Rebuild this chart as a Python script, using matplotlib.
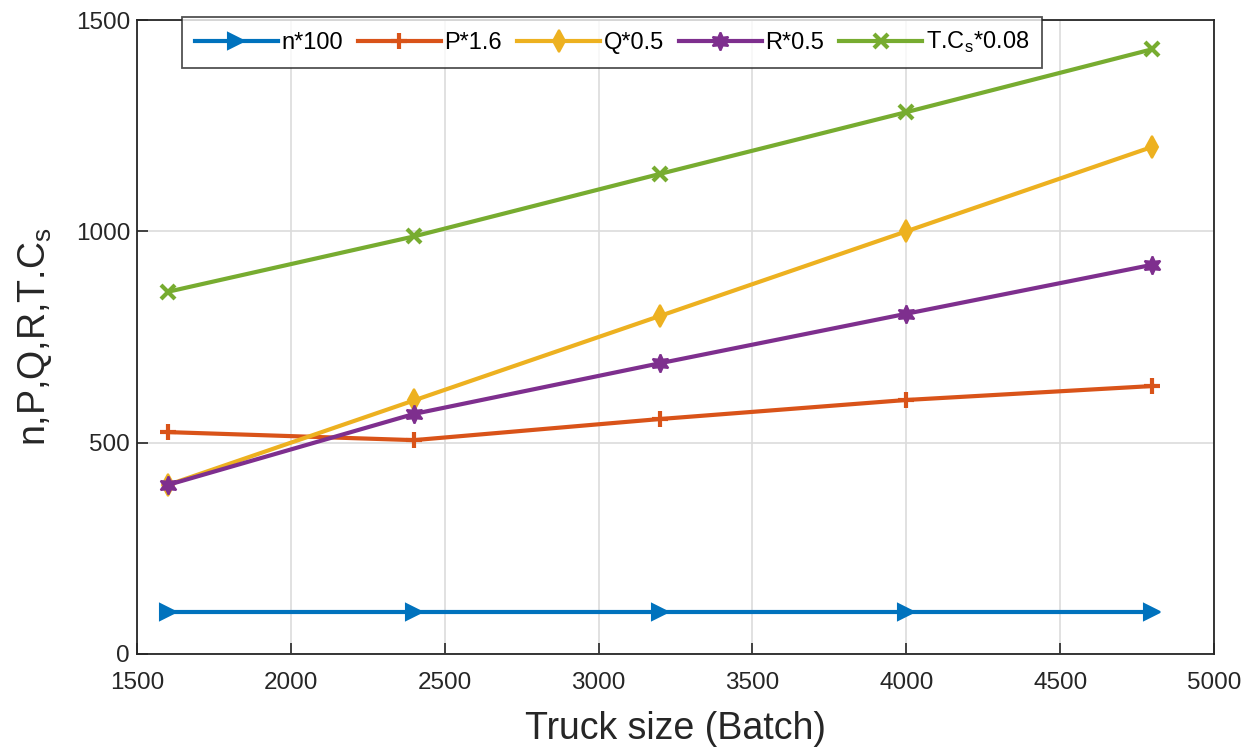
import numpy as np
import matplotlib
matplotlib.use('Agg')
import matplotlib.pyplot as plt

plt.rcParams['font.family'] = ['Liberation Sans', 'DejaVu Sans']
plt.rcParams['mathtext.fontset'] = 'custom'
plt.rcParams['mathtext.rm'] = 'Liberation Sans'

# truck size (batch) and scaled outputs
truck = [1600, 2400, 3200, 4000, 4800]
n_vals = [100, 100, 100, 100, 100]
p_vals = [525, 506, 556, 601, 634]
q_vals = [400, 600, 800, 1000, 1200]
r_vals = [400, 568, 688, 805, 921]
tc_vals = [857, 988, 1136, 1282, 1431]

labels = ['n*100', 'P*1.6', 'Q*0.5', 'R*0.5', r'T.C$_\mathregular{s}$*0.08']
colors = ['#0072BD', '#D95319', '#EDB120', '#7E2F8E', '#77AC30']
markers = ['>', '+', 'd', (6, 1, 0), 'x']
msizes = [11, 12, 11, 13, 10]
series = [n_vals, p_vals, q_vals, r_vals, tc_vals]

fig = plt.figure(figsize=(12.46, 7.47), dpi=100)
ax = fig.add_axes([0.110, 0.1245, 0.8643, 0.8487])

for y, lab, c, m, ms in zip(series, labels, colors, markers, msizes):
    ax.plot(truck, y, color=c, lw=3, marker=m, markersize=ms,
            markeredgewidth=3 if m in ('+', 'x') else 1.5,
            markerfacecolor=c, markeredgecolor=c, label=lab)

ax.set_xlim(1500, 5000)
ax.set_ylim(0, 1500)
ax.set_xticks(np.arange(1500, 5001, 500))
ax.set_yticks([0, 500, 1000, 1500])
ax.grid(True, color='#dcdcdc', lw=1.2)
ax.set_axisbelow(True)
ax.tick_params(direction='in', length=8, width=1.2, labelsize=17.5, colors='#262626')
ax.tick_params(axis='x', pad=13)
ax.tick_params(axis='y', pad=5)
for s in ax.spines.values():
    s.set_linewidth(1.3)
    s.set_color('#262626')

ax.set_xlabel('Truck size (Batch)', fontsize=27, color='#262626', labelpad=12)
ax.set_ylabel(r'n,P,Q,R,T.C$_\mathregular{s}$', fontsize=27, color='#262626', labelpad=16)

leg = fig.legend(loc='upper left', bbox_to_anchor=(0.146, 0.977), ncol=5,
                 fontsize=17, frameon=True, fancybox=False, handlelength=3.5,
                 columnspacing=0.65, handletextpad=0.15, borderpad=0.55,
                 borderaxespad=0)
leg.get_frame().set_edgecolor('#262626')
leg.get_frame().set_linewidth(1.3)

fig.savefig('out.png', dpi=100)
